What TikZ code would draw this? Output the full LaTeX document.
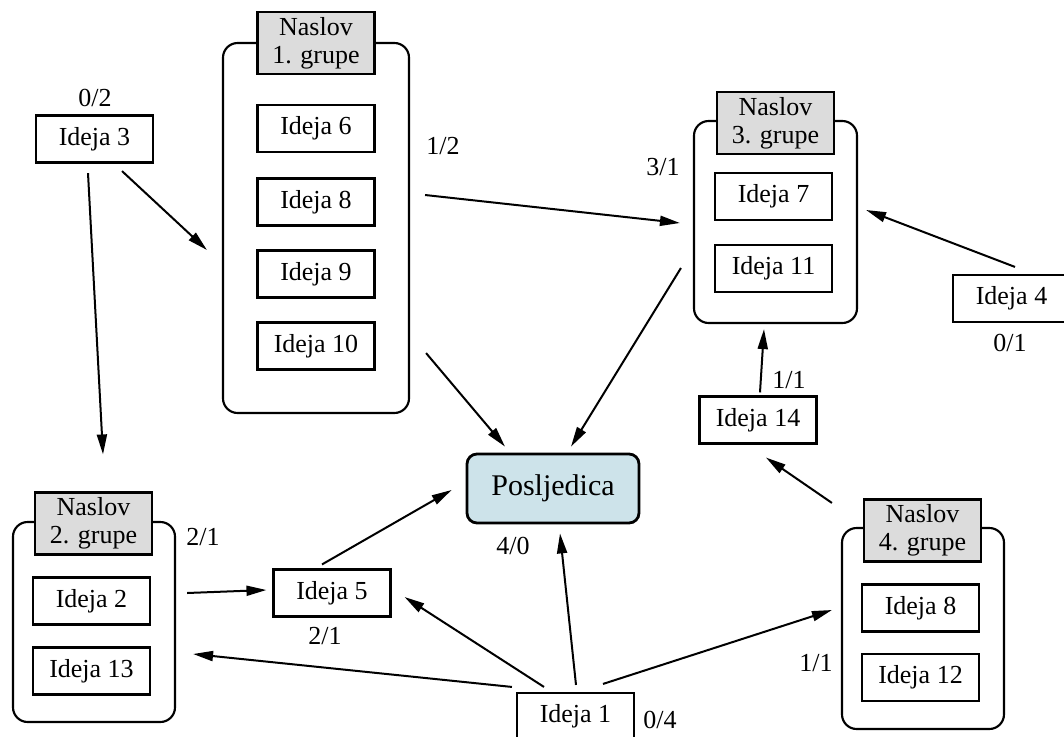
\documentclass[tikz,border=0pt]{standalone}
\usepackage{fontspec}
\setmainfont{Liberation Serif}
\usetikzlibrary{arrows.meta}
\definecolor{naslovsiva}{HTML}{DCDCDC}
\definecolor{posljplava}{HTML}{CDE3EA}
\begin{document}
\begin{tikzpicture}[x=0.75pt, y=-0.75pt, font=\fontsize{19.5}{21}\selectfont,
    okvir/.style={draw, line width=1.6pt, inner sep=0pt},
    ideja/.style={okvir, fill=white, minimum width=87.75pt, minimum height=35.25pt},
    naslov/.style={okvir, fill=naslovsiva, align=center, minimum width=87.75pt, minimum height=46.5pt},
    grupa/.style={draw, line width=1.6pt, rounded corners=11pt, inner sep=0pt},
    strelica/.style={-{Triangle[length=15pt,width=7.5pt]}, line width=1.5pt},
    ocjena/.style={inner sep=0pt}]
    \useasboundingbox (0,0) rectangle (1064,736);

    % 1. grupa
    \node[grupa, minimum width=139.5pt, minimum height=277.5pt] (g1) at (316,228) {};
    \node[naslov] (g1t) at (316,43) {Naslov\\1. grupe};
    \node[ideja] (i6) at (316,128.5) {Ideja 6};
    \node[ideja] (i8a) at (316,202) {Ideja 8};
    \node[ideja] (i9) at (316,274) {Ideja 9};
    \node[ideja] (i10) at (316,346) {Ideja 10};

    % 2. grupa
    \node[grupa, minimum width=121.5pt, minimum height=150pt] (g2) at (94,622) {};
    \node[naslov] (g2t) at (93.5,523.5) {Naslov\\2. grupe};
    \node[ideja] (i2) at (91.5,601) {Ideja 2};
    \node[ideja] (i13) at (91.5,671) {Ideja 13};

    % 3. grupa
    \node[grupa, minimum width=122.25pt, minimum height=151.5pt] (g3) at (775.5,222) {};
    \node[naslov] (g3t) at (775.5,123) {Naslov\\3. grupe};
    \node[ideja] (i7) at (773.5,196.5) {Ideja 7};
    \node[ideja] (i11) at (773.5,268.5) {Ideja 11};

    % 4. grupa
    \node[grupa, minimum width=121.5pt, minimum height=150.75pt] (g4) at (923,628.5) {};
    \node[naslov] (g4t) at (922.5,530.5) {Naslov\\4. grupe};
    \node[ideja] (i8b) at (920.5,608) {Ideja 8};
    \node[ideja] (i12) at (920.5,677.5) {Ideja 12};

    % pojedinačne ideje
    \node[ideja] (i3) at (94.5,139) {Ideja 3};
    \node[ideja] (i4) at (1011.5,298.5) {Ideja 4};
    \node[ideja] (i14) at (758,420) {Ideja 14};
    \node[ideja] (i5) at (332,593) {Ideja 5};
    \node[ideja] (i1) at (575.5,716.5) {Ideja 1};

    % posljedica
    \node[draw, line width=2.1pt, rounded corners=7.5pt, fill=posljplava,
          minimum width=129pt, minimum height=51.75pt, font=\fontsize{22.5}{24}\selectfont]
          (p) at (553,488.5) {Posljedica};

    % strelice
    \draw[strelica] ([shift={(-6.5,9.5)}]i3.south) -- ([shift={(9.5,-37)}]g2t.north);
    \draw[strelica] ([shift={(27.5,7.5)}]i3.south) -- ([shift={(-15,22)}]g1.west);
    \draw[strelica] ([shift={(15,-33)}]g1.east) -- ([shift={(-13,1)}]g3.west);
    \draw[strelica] ([shift={(16,-61)}]g1.south east) -- ([shift={(-48,-6)}]p.north);
    \draw[strelica] ([shift={(-12,46)}]g3.west) -- ([shift={(18,-6)}]p.north);
    \draw[strelica] ([shift={(3.5,-7)}]i4.north) -- ([shift={(8,-12)}]g3.east);
    \draw[strelica] ([shift={(2,-3)}]i14.north) -- ([shift={(-11.5,5)}]g3.south);
    \draw[strelica] ([shift={(-9,-24)}]g4.north west) -- ([shift={(8,13)}]i14.south);
    \draw[strelica] ([shift={(-10,-4)}]i5.north) -- ([shift={(-14,1.5)}]p.west);
    \draw[strelica] ([shift={(11,-29)}]g2.east) -- ([shift={(-6,-3)}]i5.west);
    \draw[strelica] ([shift={(-4,-5)}]i1.north west) -- ([shift={(17,32)}]g2.east);
    \draw[strelica] ([shift={(-31.5,-5)}]i1.north) -- ([shift={(13,4)}]i5.east);
    \draw[strelica] ([shift={(0.5,-7)}]i1.north) -- ([shift={(7,9)}]p.south);
    \draw[strelica] ([shift={(27.5,-8)}]i1.north) -- ([shift={(-9,-18.5)}]g4.west);

    % ocjene
    \node[ocjena] (o3) at (95,98) {0/2};
    \node[ocjena] (o1g) at (443,146) {1/2};
    \node[ocjena] (o3g) at (663,167) {3/1};
    \node[ocjena] (o4) at (1010,343) {0/1};
    \node[ocjena] (o14) at (789,380) {1/1};
    \node[ocjena] (o2g) at (203,537) {2/1};
    \node[ocjena] (op) at (513,546) {4/0};
    \node[ocjena] (o5) at (325,636) {2/1};
    \node[ocjena] (o4g) at (816,663) {1/1};
    \node[ocjena] (o1) at (660,720) {0/4};
\end{tikzpicture}
\end{document}
